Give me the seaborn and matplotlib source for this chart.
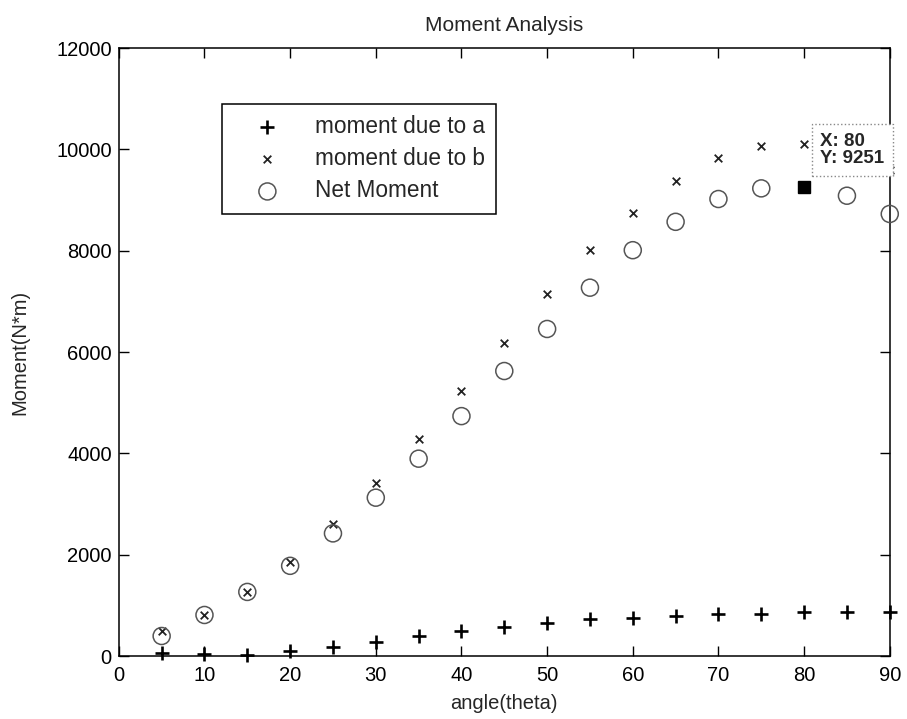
import matplotlib
matplotlib.use("Agg")
import matplotlib.pyplot as plt
import seaborn as sns
import pandas as pd

theta = [5, 10, 15, 20, 25, 30, 35, 40, 45, 50, 55, 60, 65, 70, 75, 80, 85, 90]
moment_a = [65, 30, 20, 105, 185, 280, 395, 495, 580, 655, 725, 755, 790, 830, 830, 860, 862, 862]
moment_b = [490, 810, 1270, 1860, 2600, 3420, 4280, 5235, 6185, 7145, 8010, 8735, 9375, 9835, 10070, 10105, 9945, 9585]
net_moment = [395, 810, 1265, 1780, 2420, 3125, 3895, 4735, 5625, 6455, 7270, 8010, 8570, 9020, 9230, 9251, 9085, 8725]

tip_x = 80
tip_y = 9251

df = pd.DataFrame({"theta": theta, "a": moment_a, "b": moment_b, "net": net_moment})

sns.set_style("ticks")
plt.rcParams["font.family"] = ["Liberation Sans", "DejaVu Sans"]

fig = plt.figure(figsize=(9.07, 7.19), dpi=100)
ax = fig.add_axes([0.131, 0.0876, 0.85, 0.8456])

sns.scatterplot(data=df, x="theta", y="a", marker="+", s=110, color="black",
                linewidth=1.9, label="moment due to a", ax=ax, zorder=3, clip_on=False)
sns.scatterplot(data=df, x="theta", y="b", marker="x", s=30, color="#222222",
                linewidth=1.3, label="moment due to b", ax=ax, zorder=3, clip_on=False)
# the data tip square sits where the net-moment circle at 80 would be
sns.scatterplot(data=df[df["theta"] != tip_x], x="theta", y="net", marker="o", s=150,
                facecolor="none", edgecolor="#555555", linewidth=1.1, label="Net Moment",
                ax=ax, zorder=3, clip_on=False)

# data tip
ax.plot([tip_x], [tip_y], marker="s", ms=8, color="black", zorder=5, clip_on=False)
ax.text(81.9, 10330, "X: 80\nY: 9251", fontsize=13.5, fontweight="bold", ha="left", va="top",
        linespacing=1.05, zorder=6, clip_on=False,
        bbox=dict(boxstyle="square,pad=0.45", fc="white", ec="#888888", ls=":", lw=1))

ax.set_xlim(0, 90)
ax.set_ylim(0, 12000)
ax.set_xticks(range(0, 91, 10))
ax.set_yticks(range(0, 12001, 2000))
ax.tick_params(direction="in", top=True, right=True, length=7, width=1,
               labelsize=14.5, colors="black")
ax.tick_params(axis="x", pad=7)
ax.tick_params(axis="y", pad=5)
for sp in ax.spines.values():
    sp.set_visible(True)
    sp.set_color("black")
    sp.set_linewidth(1.1)

ax.set_title("Moment Analysis", fontsize=15, pad=12)
ax.set_xlabel("angle(theta)", fontsize=14.5, labelpad=7)
ax.set_ylabel("Moment(N*m)", fontsize=14.5, labelpad=19)

leg = ax.legend(loc="upper left", bbox_to_anchor=(0.134, 0.908), fontsize=16.3,
                frameon=True, fancybox=False, borderpad=0.5, handlelength=3.0,
                handletextpad=0.6, labelspacing=0.4, borderaxespad=0)
leg.get_frame().set_edgecolor("black")
leg.get_frame().set_linewidth(1.1)
leg.get_frame().set_alpha(1)

fig.savefig("out.png", dpi=100)
